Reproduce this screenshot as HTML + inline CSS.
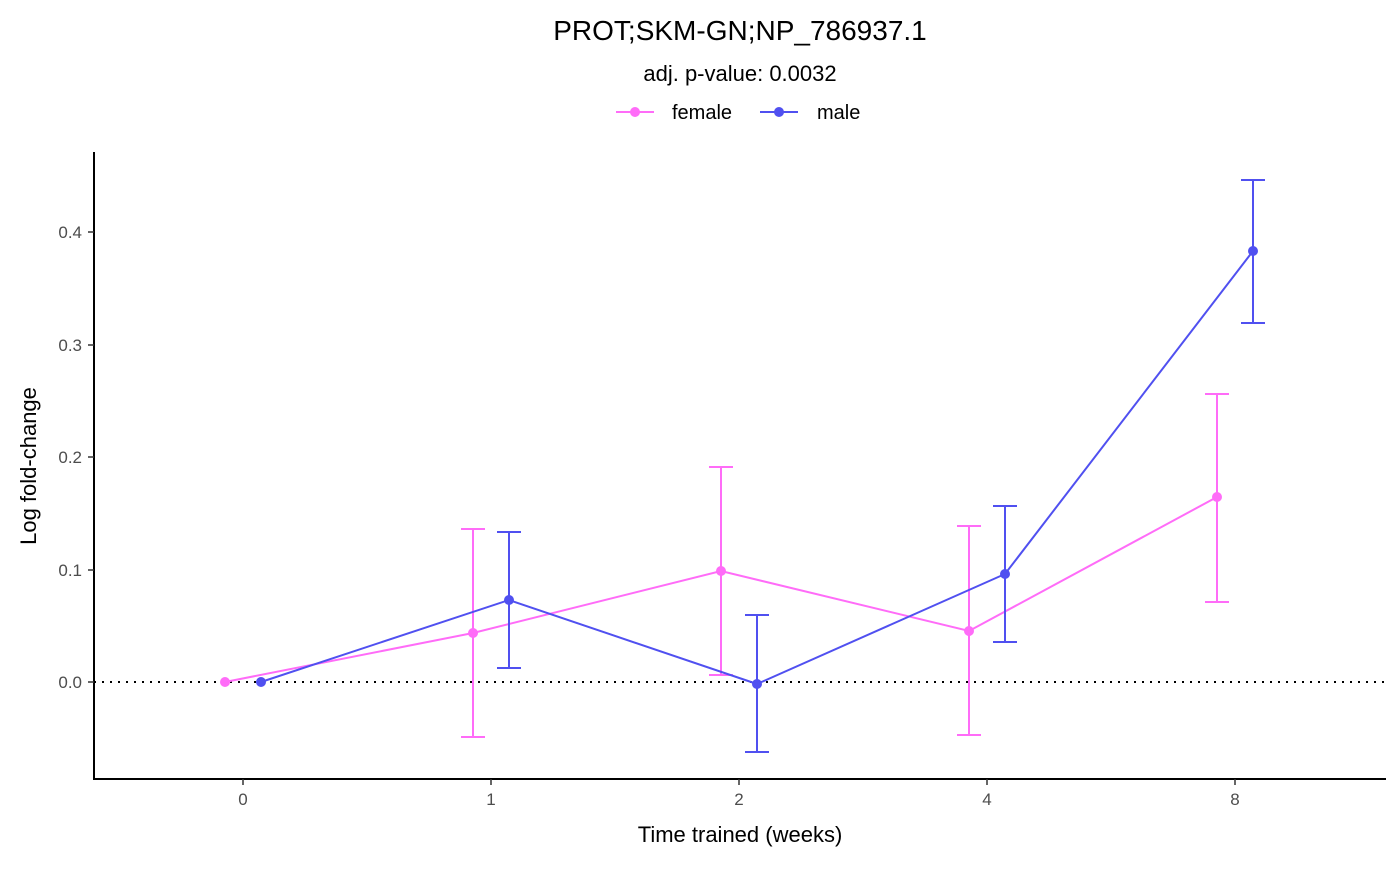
<!DOCTYPE html>
<html><head><meta charset="utf-8"><style>body{margin:0;background:#fff}</style></head><body>
<svg width="1400" height="865" xmlns="http://www.w3.org/2000/svg" font-family="Liberation Sans, Arial, sans-serif">
<rect width="1400" height="865" fill="#fff"/>
<text x="740" y="40" font-size="28" text-anchor="middle" fill="#000">PROT;SKM-GN;NP_786937.1</text>
<text x="740" y="81" font-size="22" text-anchor="middle" fill="#000">adj. p-value: 0.0032</text>
<line x1="616" y1="112" x2="654" y2="112" stroke="#FF6CF8" stroke-width="2"/><circle cx="635" cy="112" r="5" fill="#FF6CF8"/>
<text x="672" y="119" font-size="20">female</text>
<line x1="760" y1="112" x2="798" y2="112" stroke="#5050F0" stroke-width="2"/><circle cx="779" cy="112" r="5" fill="#5050F0"/>
<text x="817" y="119" font-size="20">male</text>
<line x1="94" y1="152" x2="94" y2="780" stroke="#000" stroke-width="2"/>
<line x1="93" y1="779" x2="1386" y2="779" stroke="#000" stroke-width="2"/>
<g font-size="17" fill="#4d4d4d" text-anchor="end">
<text x="82" y="238">0.4</text><text x="82" y="351">0.3</text><text x="82" y="463">0.2</text><text x="82" y="576">0.1</text><text x="82" y="688">0.0</text></g>
<g stroke="#333" stroke-width="1.5"><line x1="88" y1="232" x2="94" y2="232"/><line x1="88" y1="345" x2="94" y2="345"/><line x1="88" y1="457" x2="94" y2="457"/><line x1="88" y1="570" x2="94" y2="570"/><line x1="88" y1="682" x2="94" y2="682"/>
<line x1="243" y1="779" x2="243" y2="785"/><line x1="491" y1="779" x2="491" y2="785"/><line x1="739" y1="779" x2="739" y2="785"/><line x1="987" y1="779" x2="987" y2="785"/><line x1="1235" y1="779" x2="1235" y2="785"/></g>
<g font-size="17" fill="#4d4d4d" text-anchor="middle">
<text x="243" y="805">0</text><text x="491" y="805">1</text><text x="739" y="805">2</text><text x="987" y="805">4</text><text x="1235" y="805">8</text></g>
<text x="740" y="842" font-size="22" text-anchor="middle">Time trained (weeks)</text>
<text transform="translate(36,466) rotate(-90)" font-size="22" text-anchor="middle">Log fold-change</text>
<line x1="94" y1="682" x2="1386" y2="682" stroke="#000" stroke-width="2" stroke-dasharray="2,6"/>
<g stroke="#FF6CF8" stroke-width="2" fill="none">
<polyline points="225,682 473,633 721,571 969,631 1217,497"/>
<path d="M473,529V737M461,529H485M461,737H485 M721,467V675M709,467H733M709,675H733 M969,526V735M957,526H981M957,735H981 M1217,394V602M1205,394H1229M1205,602H1229"/></g>
<g fill="#FF6CF8"><circle cx="225" cy="682" r="5"/><circle cx="473" cy="633" r="5"/><circle cx="721" cy="571" r="5"/><circle cx="969" cy="631" r="5"/><circle cx="1217" cy="497" r="5"/></g>
<g stroke="#5050F0" stroke-width="2" fill="none">
<polyline points="261,682 509,600 757,684 1005,574 1253,251"/>
<path d="M509,532V668M497,532H521M497,668H521 M757,615V752M745,615H769M745,752H769 M1005,506V642M993,506H1017M993,642H1017 M1253,180V323M1241,180H1265M1241,323H1265"/></g>
<g fill="#5050F0"><circle cx="261" cy="682" r="5"/><circle cx="509" cy="600" r="5"/><circle cx="757" cy="684" r="5"/><circle cx="1005" cy="574" r="5"/><circle cx="1253" cy="251" r="5"/></g>
</svg>
</body></html>
